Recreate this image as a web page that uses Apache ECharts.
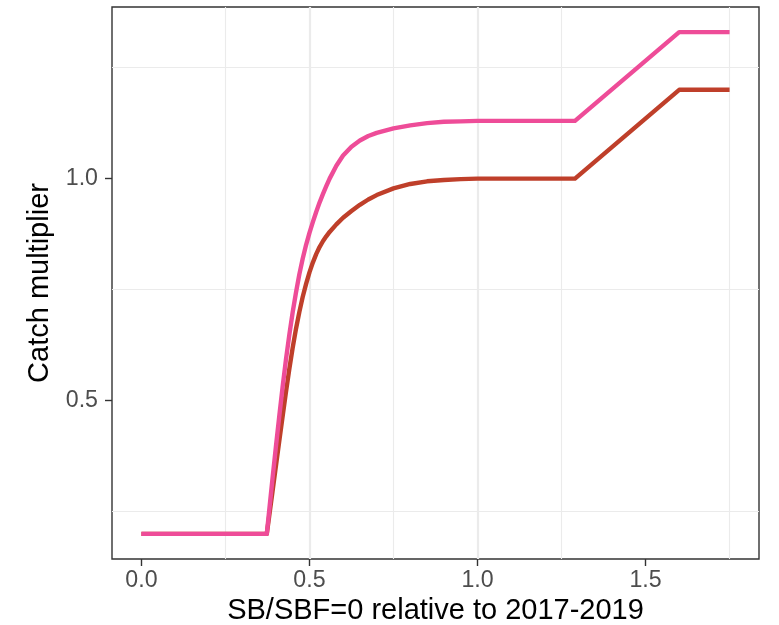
<!DOCTYPE html>
<html><head><meta charset="utf-8">
<script src="https://cdn.jsdelivr.net/npm/echarts@6/dist/echarts.min.js"></script>
<style>html,body{margin:0;padding:0;background:#fff}#c{width:779px;height:625px}</style>
</head><body><div id="c"></div>
<script>
// x positions (SB/SBF=0 relative to 2017-2019)
const xValues = [0, 0.373, 0.38, 0.39, 0.40, 0.41, 0.42, 0.43, 0.44, 0.45, 0.46, 0.47, 0.48, 0.49, 0.50,
  0.51, 0.52, 0.53, 0.54, 0.55, 0.56, 0.58, 0.60, 0.625, 0.65, 0.675, 0.70, 0.75, 0.80, 0.85, 0.90, 0.95, 1.0,
  1.29, 1.6, 1.75];
// dark red curve
const redValues = [0.2, 0.2, 0.239, 0.295, 0.352, 0.408, 0.464, 0.519, 0.571, 0.619, 0.662, 0.700, 0.734, 0.763, 0.789,
  0.811, 0.830, 0.846, 0.859, 0.870, 0.880, 0.897, 0.912, 0.927, 0.941, 0.953, 0.963, 0.978, 0.988, 0.994, 0.997, 0.999, 1.0,
  1.0, 1.2, 1.2];
// pink curve
const pinkValues = [0.2, 0.2, 0.251, 0.324, 0.395, 0.464, 0.530, 0.592, 0.648, 0.699, 0.744, 0.785, 0.820, 0.851, 0.878,
  0.902, 0.925, 0.946, 0.965, 0.983, 1.0, 1.029, 1.052, 1.072, 1.086, 1.096, 1.103, 1.113, 1.120, 1.125, 1.128, 1.129, 1.13,
  1.13, 1.33, 1.33];
const xTicks = [0, 0.5, 1.0, 1.5];
const yTicks = [0.5, 1.0];

const FONT = "'Liberation Sans', Arial, sans-serif";
function range(vals){
  const lo = Math.min(...vals), hi = Math.max(...vals), pad = (hi - lo) * 0.05;
  return [lo - pad, hi + pad];
}
const xr = range(xValues);
const yr = range(redValues.concat(pinkValues));
const toPairs = ys => xValues.map((x, i) => [x, ys[i]]);

const chart = echarts.init(document.getElementById('c'), null, {renderer: 'canvas'});
function axisCommon(ticks, margin) {
  return {
    type: 'value',
    axisLine: {show: false, onZero: false},
    axisTick: {show: true, length: 7, customValues: ticks, lineStyle: {color: '#333333', width: 1.4}},
    axisLabel: {customValues: ticks, margin: margin, color: '#4d4d4d', fontSize: 23.2, fontFamily: FONT,
      formatter: v => Number(v).toFixed(1)},
    splitLine: {show: true, showMinLine: false, showMaxLine: false, lineStyle: {color: '#ebebeb', width: 2.2}},
    minorTick: {show: false, splitNumber: 2},
    minorSplitLine: {show: true, lineStyle: {color: '#ebebeb', width: 1.1}},
    nameLocation: 'middle',
    nameTextStyle: {color: '#000', fontSize: 29, fontFamily: FONT}
  };
}
const option = {
  animation: false,
  backgroundColor: '#ffffff',
  grid: {left: 112, right: 20, top: 7, bottom: 66, show: true, borderColor: '#333333', borderWidth: 1.4,
    backgroundColor: '#ffffff', containLabel: false, outerBoundsMode: 'none'},
  xAxis: Object.assign(axisCommon(xTicks, 10), {min: xr[0], max: xr[1], splitNumber: 4,
    name: 'SB/SBF=0 relative to 2017-2019', nameGap: 34}),
  yAxis: Object.assign(axisCommon(yTicks, 14), {min: yr[0], max: yr[1], splitNumber: 3,
    name: 'Catch multiplier', nameGap: 49}),
  series: [
    {type: 'line', data: toPairs(redValues), showSymbol: false, symbol: 'none', smooth: false,
      lineStyle: {color: '#bf3f2a', width: 4.4, cap: 'butt', join: 'round'}, z: 2},
    {type: 'line', data: toPairs(pinkValues), showSymbol: false, symbol: 'none', smooth: false,
      lineStyle: {color: '#ee4c98', width: 4.4, cap: 'butt', join: 'round'}, z: 3}
  ]
};
chart.setOption(option);
</script></body></html>
